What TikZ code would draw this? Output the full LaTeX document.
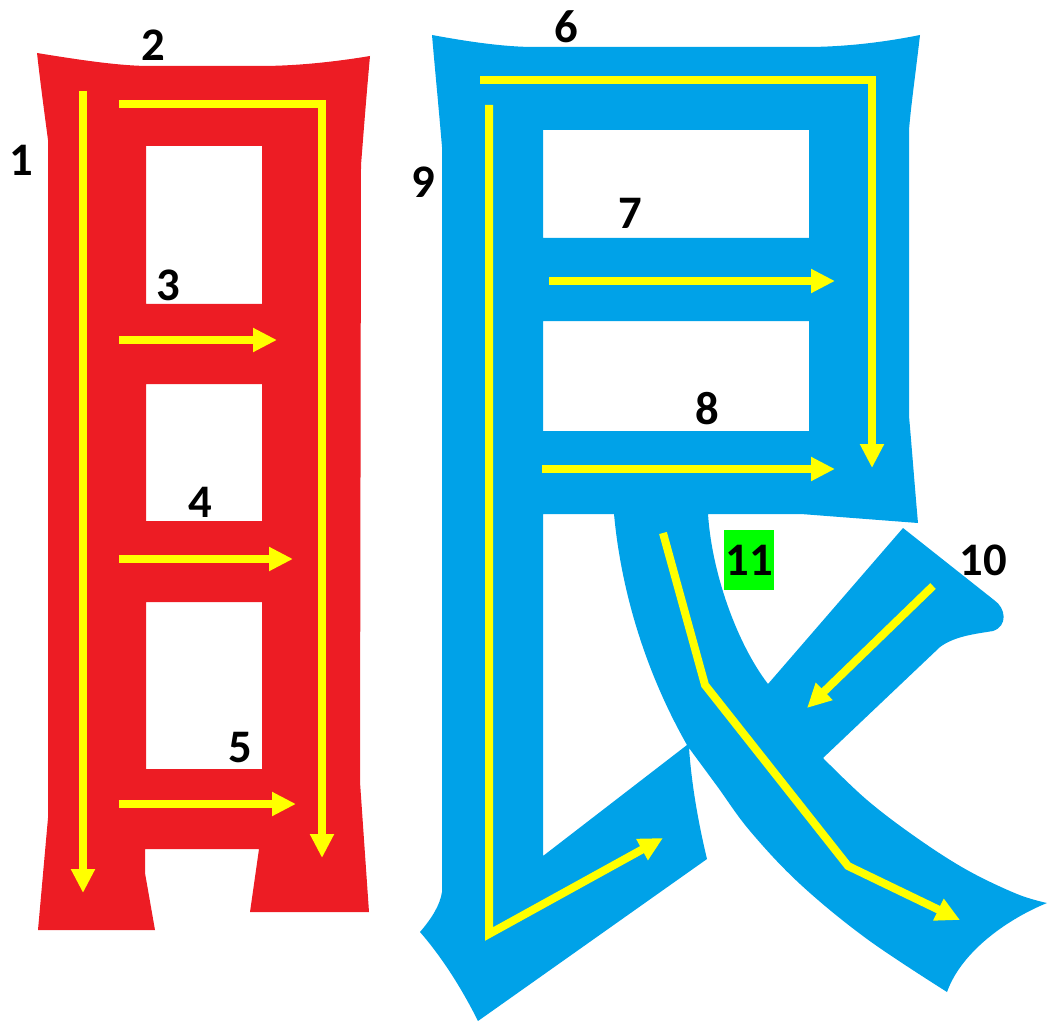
\documentclass[tikz,border=0pt]{standalone}
\usepackage{fontspec}
\setsansfont{Carlito}
\usetikzlibrary{arrows.meta}
\definecolor{strokered}{HTML}{ED1C24}
\definecolor{strokeblue}{HTML}{00A2E8}
\definecolor{arrowyellow}{HTML}{FFFF00}
\definecolor{labelgreen}{HTML}{00FF00}
\begin{document}
\begin{tikzpicture}[x=0.75pt,y=-0.75pt,
  strokearrow/.style={draw=arrowyellow, line width=6pt, line join=miter, -{Triangle[length=18pt,width=17pt]}},
  num/.style={font=\sffamily\bfseries\fontsize{35}{35}\selectfont, inner sep=0pt, text=black},
]
\useasboundingbox (0,0) rectangle (1048,1023);

% red component
\fill[strokered, even odd rule]
  (37,53) .. controls (80,60) and (120,66) .. (150,66) -- (260,66)
  .. controls (300,66) and (340,61) .. (370,56)
  .. controls (366,100) and (363,140) .. (361,165)
  -- (360,782) -- (369,912) -- (250,912) -- (259,849) -- (145,849)
  -- (145,873) -- (155,930) -- (38,930) -- (48,818) -- (48,140)
  .. controls (44,110) and (40,80) .. (37,53) -- cycle
  (146,146) rectangle (262,304)
  (146,384) rectangle (262,521)
  (146,602) rectangle (262,769);

% blue component
\fill[strokeblue, even odd rule]
  (432,35) .. controls (470,42) and (505,47) .. (535,47) -- (805,47)
  .. controls (850,47) and (890,41) .. (920,35)
  .. controls (916,70) and (911,105) .. (909,130)
  -- (909,416) .. controls (912,450) and (915,490) .. (918,523)
  -- (801,514) -- (708,514)
  .. controls (712,575) and (738,645) .. (768,684)
  -- (903,528) -- (994,600)
  .. controls (1006,608) and (1008,626) .. (993,631)
  .. controls (975,634) and (955,636) .. (940,647)
  -- (823,758)
  -- plot[smooth, tension=0.6] coordinates {(823,758) (867,800) (917,838) (967,870) (1017,894) (1047,903)}
  .. controls (1010,918) and (962,950) .. (947,992)
  -- plot[smooth, tension=0.6] coordinates {(947,992) (867,939) (800,884) (750,831) (717,786) (689,748)}
  .. controls (692,790) and (700,830) .. (707,859)
  -- (478,1021)
  .. controls (460,985) and (440,955) .. (420,932)
  .. controls (432,918) and (440,905) .. (442,892)
  -- (442,147) .. controls (438,100) and (435,70) .. (432,35) -- cycle
  (543,130) rectangle (809,238)
  (543,321) rectangle (809,431)
  (543,514) -- (614,514) .. controls (622,600) and (650,680) .. (687,745)
  -- (543,856) -- cycle;

% stroke-order arrows
\coordinate (a1s) at (83,91);   \coordinate (a1e) at (83,893);
\coordinate (a2s) at (119,104); \coordinate (a2c) at (322,104); \coordinate (a2e) at (322,858);
\coordinate (a3s) at (119,340); \coordinate (a3e) at (277,340);
\coordinate (a4s) at (119,559); \coordinate (a4e) at (293,559);
\coordinate (a5s) at (119,804); \coordinate (a5e) at (296,804);
\coordinate (a6s) at (480,80);  \coordinate (a6c) at (872,80);  \coordinate (a6e) at (872,468);
\coordinate (a7s) at (549,281); \coordinate (a7e) at (835,281);
\coordinate (a8s) at (542,469); \coordinate (a8e) at (835,469);
\coordinate (a9s) at (489,105); \coordinate (a9c) at (489,934); \coordinate (a9e) at (663,838);
\coordinate (a10s) at (933,586); \coordinate (a10e) at (807,708);
\coordinate (a11s) at (663,533); \coordinate (a11b) at (705,685); \coordinate (a11c) at (848,866); \coordinate (a11e) at (960,920);

\draw[strokearrow] (a1s) -- (a1e);
\draw[strokearrow] (a2s) -- (a2c) -- (a2e);
\draw[strokearrow] (a3s) -- (a3e);
\draw[strokearrow] (a4s) -- (a4e);
\draw[strokearrow] (a5s) -- (a5e);
\draw[strokearrow] (a6s) -- (a6c) -- (a6e);
\draw[strokearrow] (a7s) -- (a7e);
\draw[strokearrow] (a8s) -- (a8e);
\draw[strokearrow] (a9s) -- (a9c) -- (a9e);
\draw[strokearrow] (a10s) -- (a10e);
\draw[strokearrow] (a11s) -- (a11b) -- (a11c) -- (a11e);

% labels
\node[num] (l1) at (21,160) {1};
\node[num] (l2) at (153,45) {2};
\node[num] (l3) at (168,285) {3};
\node[num] (l4) at (200,502) {4};
\node[num] (l5) at (240,748) {5};
\node[num] (l6) at (566,27) {6};
\node[num] (l7) at (630,213) {7};
\node[num] (l8) at (707,409) {8};
\node[num] (l9) at (423,182) {9};
\node[num] (l10) at (983,560) {10};
\node[num, fill=labelgreen, minimum width=37pt, minimum height=45pt] (l11) at (749,560) {11};
\end{tikzpicture}
\end{document}
